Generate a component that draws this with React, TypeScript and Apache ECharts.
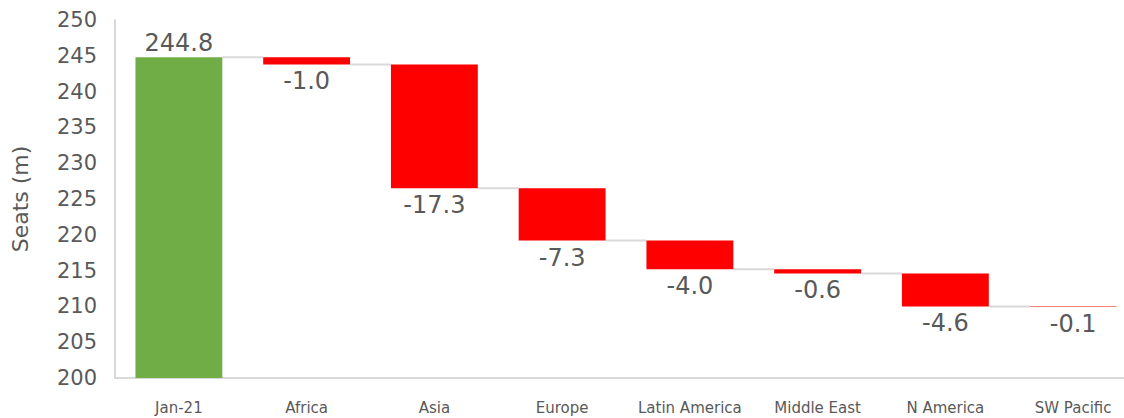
import React, { useEffect, useRef } from "react";
import * as echarts from "echarts";

const categories = ["Jan-21", "Africa", "Asia", "Europe", "Latin America", "Middle East", "N America", "SW Pacific"];
const startTotal = 244.8;
const changes = [-1.0, -17.3, -7.3, -4.0, -0.6, -4.6, -0.1];
const yTicks = { min: 200, max: 250, interval: 5 };

const FONT = "DejaVu Sans";

export default function App() {
  const ref = useRef<HTMLDivElement>(null);
  useEffect(() => {
    document.body.style.margin = "0";
    if (!ref.current) return;
    const chart = echarts.init(ref.current, null, { renderer: "svg" });

    const levels: number[] = [startTotal];
    let cur = startTotal;
    for (const c of changes) {
      cur = +(cur + c).toFixed(2);
      levels.push(cur);
    }
    const base: number[] = [0];
    const vis: any[] = [
      {
        value: startTotal,
        itemStyle: { color: "#70ad47" },
        label: { show: true, position: "top", distance: 2, formatter: startTotal.toFixed(1) },
      },
    ];
    changes.forEach((c, i) => {
      base.push(levels[i + 1]);
      vis.push({
        value: Math.abs(c),
        itemStyle: { color: "#ff0000" },
        label: { show: true, position: "bottom", distance: 5, formatter: c.toFixed(1) },
      });
    });
    const connectors = levels.slice(0, levels.length - 1).map((l, i) => [i, l]);

    chart.setOption({
      animation: false,
      grid: { left: 115, right: -13, top: 20, bottom: 40, containLabel: false, outerBoundsMode: "none" },
      xAxis: {
        type: "category",
        data: categories,
        axisLine: { lineStyle: { color: "#d9d9d9", width: 2 } },
        axisTick: { show: false },
        axisLabel: { color: "#595959", fontSize: 15, fontFamily: FONT, margin: 22, interval: 0 },
      },
      yAxis: {
        type: "value",
        min: yTicks.min,
        max: yTicks.max,
        interval: yTicks.interval,
        name: "Seats (m)",
        nameLocation: "middle",
        nameGap: 84,
        nameTextStyle: { color: "#595959", fontSize: 22, fontFamily: FONT },
        axisLine: { show: true, lineStyle: { color: "#d9d9d9", width: 2 } },
        axisTick: { show: false },
        splitLine: { show: false },
        axisLabel: { color: "#595959", fontSize: 21, fontFamily: FONT, margin: 18 },
      },
      series: [
        {
          type: "bar",
          stack: "w",
          data: base,
          itemStyle: { color: "transparent" },
          barWidth: "68%",
          silent: true,
        },
        {
          type: "bar",
          stack: "w",
          data: vis,
          barWidth: "68%",
          label: { color: "#595959", fontSize: 24, fontFamily: FONT },
        },
        {
          type: "custom",
          data: connectors,
          z: 1,
          renderItem: (params: any, api: any) => {
            const i = api.value(0);
            const l = api.value(1);
            const p = api.coord([i, l]);
            const band = api.size([1, 0])[0];
            const bw = band * 0.68;
            return {
              type: "line",
              shape: { x1: p[0] + bw / 2, y1: p[1], x2: p[0] + band - bw / 2, y2: p[1] },
              style: { stroke: "#d9d9d9", lineWidth: 2 },
            };
          },
        },
      ],
    });
    return () => chart.dispose();
  }, []);
  return <div ref={ref} style={{ width: 1124, height: 418 }} />;
}
